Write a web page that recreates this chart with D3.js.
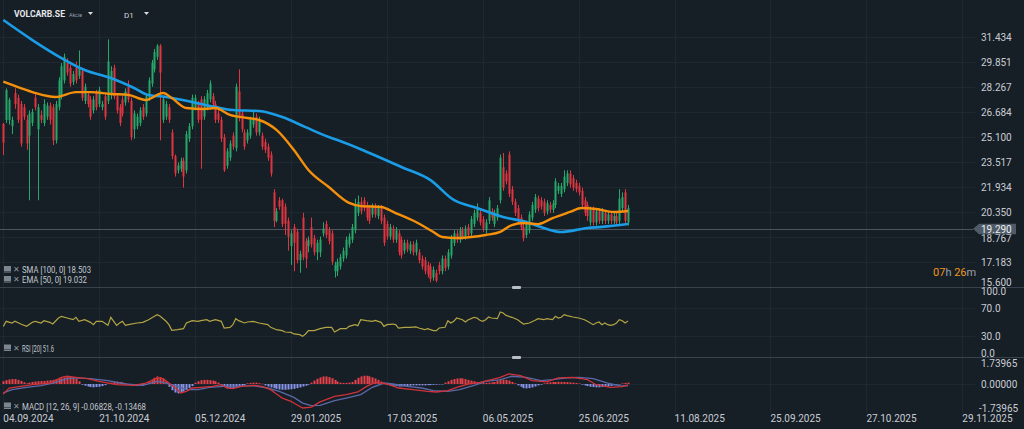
<!DOCTYPE html>
<html><head><meta charset="utf-8">
<script src="https://cdnjs.cloudflare.com/ajax/libs/d3/7.8.5/d3.min.js"></script>
<style>
html,body{margin:0;padding:0;background:#161e26;overflow:hidden}
svg{display:block}
text{font-family:Roboto,"Noto Sans",Arial,sans-serif}
</style>
</head><body>
<svg id="c" width="1024" height="429"></svg>
<script>
// ---------- DATA ----------
const opens = [25.95,26.19,26.19,25.8,27.9,27.6,27.2,27.0,26.2,25.2,26.0,27.6,25.6,26.5,26.0,26.4,27.1,27.0,24.9,27.0,
27.7,28.7,29.8,29.5,28.6,29.5,29.0,29.3,27.4,27.8,27.5,26.8,27.9,27.2,27.0,27.7,27.4,27.8,29.5,27.7,
27.0,27.5,27.3,28.3,27.4,25.6,25.8,26.0,27.0,26.6,27.6,28.5,29.4,30.2,30.9,26.2,26.4,27.0,25.4,23.9,
23.0,23.1,23.6,23.0,25.0,25.8,27.0,27.2,27.5,26.4,27.0,27.5,27.7,27.2,26.6,26.2,25.1,23.3,23.8,25.2,
24.4,28.0,26.6,25.4,24.9,25.2,25.9,26.4,25.4,25.2,24.8,24.5,24.0,21.6,19.8,21.1,21.1,20.7,19.8,18.2,
19.4,19.1,17.3,20.0,18.5,18.2,19.4,18.7,17.8,17.8,19.0,19.6,19.2,19.0,16.6,16.6,16.9,17.4,17.6,18.3,
18.6,19.2,20.3,21.0,21.1,20.8,20.6,20.2,20.7,20.1,20.6,20.0,19.6,18.8,19.3,18.6,19.0,18.6,17.9,18.4,
17.9,18.3,17.8,17.8,17.4,17.3,17.0,16.9,16.2,16.5,17.0,16.6,17.4,16.9,17.6,18.4,19.0,18.6,19.2,18.8,
19.4,19.0,19.6,20.0,20.3,19.9,19.2,19.8,20.4,19.6,20.0,21.1,23.2,22.8,24.0,21.8,21.0,20.6,20.0,19.4,
18.9,19.2,20.0,20.5,21.2,21.1,21.0,20.4,20.8,20.5,20.8,21.7,21.5,21.8,22.2,22.8,22.5,22.2,22.0,21.7,
21.1,20.8,19.7,20.5,19.7,20.4,19.8,20.3,19.8,20.2,19.8,20.1,19.8,20.6,21.6,19.7];
const highs = [26.0,28.2,27.6,26.4,28.2,27.8,27.4,27.2,26.5,26.8,26.9,27.9,27.2,26.8,27.5,27.3,27.3,27.2,27.4,28.9,
29.8,30.4,30.1,29.7,29.3,29.9,30.6,29.5,28.5,28.0,27.7,27.7,28.1,28.3,27.4,27.9,31.3,29.6,29.7,27.9,
27.2,27.7,28.2,28.7,27.6,26.8,26.6,27.0,27.2,27.9,28.9,30.0,30.7,31.0,31.0,27.7,27.4,27.2,25.6,24.0,
23.5,23.8,23.8,25.5,26.0,27.8,27.8,27.4,27.7,27.7,28.1,28.7,27.9,27.4,26.8,26.4,25.3,24.4,24.9,25.4,
28.5,29.4,26.8,25.6,25.6,26.4,26.7,26.6,26.4,25.4,25.0,24.7,24.2,21.8,20.6,21.3,21.2,20.9,20.0,19.2,
19.6,19.3,17.9,20.3,18.7,18.8,20.0,18.9,18.6,18.8,19.7,19.8,19.4,19.2,17.2,17.4,17.7,18.1,18.8,19.0,
19.6,21.2,21.4,21.3,21.3,21.0,20.8,20.9,20.9,20.8,20.8,20.2,19.8,19.6,19.5,19.4,19.2,18.8,18.6,18.6,
18.5,18.5,18.6,18.0,17.6,17.5,17.2,17.1,16.9,16.7,17.2,17.6,17.6,18.0,18.9,19.2,19.2,19.4,19.4,19.5,
19.6,20.1,20.5,20.9,20.5,20.1,19.9,21.3,20.6,20.5,20.8,24.0,24.1,23.0,24.2,22.0,21.2,20.8,20.2,19.6,
19.8,20.4,21.0,21.5,21.4,21.3,21.2,21.1,21.0,21.1,22.5,22.2,22.2,23.0,23.0,23.0,22.7,22.4,22.2,21.9,
21.3,21.0,20.7,20.7,20.6,20.6,20.6,20.5,20.4,20.4,20.3,20.3,21.8,21.6,21.8,20.8];
const lows = [23.97,26.0,25.9,25.3,26.9,26.0,24.5,26.2,24.3,21.1,25.8,26.8,21.1,26.0,25.8,26.2,25.9,24.6,24.7,26.8,
27.5,28.5,29.0,28.3,28.4,28.5,28.8,27.4,27.2,27.0,26.2,26.6,26.8,27.0,26.8,26.2,27.2,27.5,27.5,26.6,
25.8,26.4,27.1,27.3,24.9,25.0,25.6,25.8,26.2,26.4,27.4,28.3,29.2,30.0,24.9,26.0,26.2,26.0,23.7,22.6,
22.8,22.9,21.9,22.8,24.8,25.6,26.8,26.0,23.1,26.2,26.8,27.3,27.0,26.0,26.0,24.8,22.9,23.1,23.6,24.3,
24.2,26.1,25.4,24.3,24.7,25.0,25.7,25.2,25.2,24.3,24.1,23.6,22.6,19.4,19.7,20.5,19.4,18.9,17.9,17.0,
16.6,17.1,16.5,17.3,16.8,17.8,18.1,17.6,17.3,17.5,18.8,18.7,18.3,17.0,16.2,16.3,16.7,17.2,17.4,18.1,
18.4,19.0,20.1,20.2,20.4,19.8,19.6,20.0,20.0,19.9,19.6,18.2,18.6,18.6,18.4,18.4,17.6,17.4,17.7,17.8,
17.7,17.6,17.6,17.1,16.7,16.4,16.2,15.9,16.0,15.9,16.4,16.4,16.6,16.7,17.4,18.2,18.4,18.4,18.6,18.6,
18.7,18.8,19.4,19.8,19.5,19.1,19.0,19.6,19.8,19.4,19.8,20.9,21.7,22.1,21.3,20.8,20.1,19.6,19.2,18.5,
18.7,19.0,19.8,20.3,20.4,20.5,20.1,20.2,20.3,20.3,20.6,21.5,21.3,21.6,22.0,21.9,21.7,21.6,21.4,20.6,
20.1,19.8,19.5,19.5,19.5,19.6,19.6,19.6,19.6,19.6,19.6,19.5,19.6,20.4,19.6,19.5];
const closes = [24.75,28.09,27.46,26.2,27.2,26.2,24.7,26.4,24.7,26.6,26.7,27.0,27.0,26.2,27.2,27.1,26.2,24.9,27.2,28.7,
29.6,30.2,29.2,28.5,29.1,28.7,29.5,27.6,28.3,27.2,26.4,27.5,27.0,28.1,27.2,26.4,29.9,29.3,27.7,26.8,
26.0,26.6,28.0,27.5,25.1,26.6,26.4,26.8,26.4,27.7,28.7,29.8,30.5,30.9,29.2,27.5,27.2,26.2,23.9,22.8,
23.3,23.6,22.6,25.3,25.8,27.6,27.6,26.2,26.2,27.5,27.9,28.5,27.2,26.2,26.2,25.0,23.0,24.2,24.7,24.5,
28.3,26.3,25.6,24.5,25.4,26.2,26.2,25.4,26.2,24.5,24.3,23.8,22.8,19.8,20.4,20.7,19.6,19.6,18.8,19.0,
18.4,17.3,17.7,17.5,17.4,18.6,18.3,17.8,18.4,18.6,19.3,18.9,18.5,17.2,17.0,17.2,17.5,17.9,18.6,18.8,
19.4,20.8,21.0,20.4,20.6,20.0,19.8,20.7,20.2,20.6,19.8,18.4,18.8,19.4,18.6,19.2,17.8,17.6,18.4,18.0,
18.3,17.8,18.4,17.3,16.9,16.6,16.4,16.1,16.7,16.0,16.6,17.4,16.8,17.8,18.7,19.0,18.6,19.2,18.8,19.3,
18.9,19.9,20.3,20.6,19.7,19.3,19.7,21.1,20.0,20.3,20.6,23.8,21.9,22.3,21.5,21.0,20.3,19.8,19.4,18.7,
19.6,20.2,20.8,21.3,20.6,20.7,20.3,20.9,20.5,20.9,22.3,22.0,22.0,22.6,22.8,22.1,21.9,21.8,21.6,20.8,
20.3,20.1,20.5,19.7,20.4,19.8,20.4,19.8,20.2,19.8,20.1,19.7,21.2,21.3,19.8,20.6];

const smaIdx = [0,10,20,28,37,45,50,56,65,73,79,88,96,104,112,115,126,137,147,155,163,172,180,186,192,201,206,215];
const smaVal = [32.53,31.26,30.12,29.36,28.85,28.22,27.77,27.65,27.33,27.01,26.82,26.76,26.38,25.74,25.11,24.92,24.10,23.21,22.38,21.12,20.61,20.04,19.72,19.34,19.09,19.34,19.41,19.59];

const emaIdx = [0,3,10,18,25,30,37,43,49,55,58,63,69,73,78,84,88,94,100,105,112,119,123,130,135,142,148,151,156,161,166,171,175,179,184,189,195,199,204,210,215];
const emaVal = [28.62,28.41,27.96,27.65,27.96,27.96,27.84,27.78,27.46,27.90,27.58,26.95,26.89,26.95,26.51,26.32,26.19,25.56,24.29,23.02,21.94,20.93,20.73,20.67,20.29,19.72,19.09,18.77,18.71,18.77,18.90,19.09,19.53,19.66,19.59,19.97,20.36,20.61,20.55,20.36,20.42];

const rsiIdx = [0,1,3,4,6,8,10,11,13,14,16,17,19,20,22,24,25,26,28,30,31,32,34,36,37,38,39,40,41,42,43,46,48,50,52,53,54,56,57,58,60,62,63,65,67,68,70,71,73,75,76,78,79,80,81,83,84,86,88,91,92,94,96,97,99,100,102,103,104,105,107,
109,111,113,114,116,118,119,121,122,123,125,127,128,130,131,132,134,135,136,138,140,142,143,145,146,148,149,150,152,153,154,155,156,158,159,160,161,162,163,164,165,166,167,168,170,171,172,173,175,177,178,179,181,183,184,186,187,189,190,191,192,193,194,196,198,200,201,203,204,205,206,207,208,209,210,211,212,213,214,215];
const rsiVal = [43.8,51.0,48.6,51.0,47.1,43.8,49.5,51.0,48.6,51.9,49.5,47.1,55.7,58.1,55.7,53.3,56.7,51.0,53.3,49.5,46.2,51.0,51.0,45.2,56.7,51.0,45.2,48.6,51.0,45.2,46.2,48.6,49.5,53.3,58.1,60.5,58.1,51.0,46.2,38.1,39.0,40.5,48.6,51.9,51.0,51.9,53.3,51.0,53.3,51.0,41.4,42.4,46.2,54.8,51.9,48.6,50.0,51.0,48.6,46.2,42.4,39.0,37.6,35.7,35.2,32.9,31.9,29.5,32.9,37.6,37.6,
40.5,42.4,42.4,35.7,40.5,40.5,43.8,46.2,44.8,53.3,51.9,51.0,52.4,49.5,43.8,46.2,47.1,46.2,41.4,42.4,42.4,42.9,41.4,39.0,40.5,37.6,37.6,41.4,42.4,51.9,48.6,51.0,55.7,53.3,50.0,53.3,54.8,56.7,55.7,52.4,51.0,53.3,57.1,55.7,54.8,64.3,62.9,59.5,56.7,53.3,50.0,47.1,48.6,52.4,54.8,53.3,54.8,53.3,58.1,55.7,56.7,60.5,59.1,57.1,55.7,53.3,51.0,46.2,48.6,50.0,46.2,48.6,46.2,45.2,46.2,48.6,53.3,51.9,48.6,51.6];

const macdIdx = [0,2,6,10,16,20,22,25,29,33,39,45,49,53,55,57,60,61,63,65,68,72,75,77,79,82,86,89,92,94,96,99,101,103,106,109,114,118,122,125,128,132,136,141,146,149,153,156,160,164,168,171,174,178,182,187,191,196,201,204,209,213,215];
const macdVal = [-0.73,-0.29,-0.17,-0.05,0.07,0.48,0.56,0.48,0.39,0.19,-0.05,-0.10,0.07,0.44,0.39,0.07,-0.41,-0.65,-0.53,-0.29,-0.24,-0.17,-0.05,-0.29,-0.34,-0.17,-0.10,-0.17,-0.41,-0.73,-1.02,-1.26,-1.50,-1.74,-1.67,-1.30,-0.89,-0.77,-0.58,-0.17,0.12,0.00,-0.29,-0.41,-0.53,-0.58,-0.48,-0.24,0.00,0.12,0.31,0.48,0.73,0.60,0.24,0.15,0.44,0.48,0.31,-0.05,-0.24,-0.19,-0.07];
const signalIdx = [0,3,8,13,17,22,25,30,36,42,48,53,56,60,63,67,71,76,80,86,91,95,100,103,106,109,114,118,123,127,131,134,139,144,148,153,157,162,166,171,175,180,185,189,194,198,203,208,212,215];
const signalVal = [-0.65,-0.41,-0.24,-0.12,0.07,0.39,0.44,0.39,0.24,0.00,-0.10,0.19,0.07,-0.17,-0.41,-0.41,-0.24,-0.17,-0.17,-0.12,-0.29,-0.53,-0.97,-1.38,-1.57,-1.55,-1.21,-1.02,-0.77,-0.24,0.07,0.00,-0.17,-0.29,-0.48,-0.53,-0.41,-0.10,0.19,0.31,0.56,0.48,0.24,0.31,0.44,0.48,0.39,0.07,-0.12,-0.13];
const histVal = [0.2,0.28,0.33,0.36,0.36,0.3,0.22,0.12,0.05,0.1,
0.15,0.18,0.2,0.22,0.22,0.25,0.27,0.3,0.33,0.38,0.42,0.48,0.52,0.55,0.5,0.38,0.2,
-0.05,-0.12,-0.18,-0.22,-0.24,-0.22,-0.2,-0.15,-0.08,
0.05,0.1,0.15,0.17,0.15,0.12,0.06,
-0.05,-0.1,-0.14,-0.15,-0.12,-0.08,-0.03,
0.15,0.3,0.45,0.55,0.5,0.38,0.2,
-0.2,-0.45,-0.62,-0.68,-0.65,-0.55,-0.42,-0.3,-0.15,
0.1,0.2,0.28,0.3,0.3,0.28,0.25,0.2,0.1,
-0.1,-0.2,-0.3,-0.32,-0.3,-0.28,-0.22,-0.15,-0.08,
0.05,0.08,0.1,0.1,0.06,0.02,
-0.1,-0.18,-0.25,-0.3,-0.35,-0.4,-0.42,-0.42,-0.4,-0.38,-0.35,-0.3,-0.25,-0.18,-0.12,-0.05,
0.1,0.25,0.38,0.48,0.55,0.55,0.5,0.42,0.3,0.18,
0.1,0.08,0.08,0.1,0.15,
0.3,0.45,0.55,0.6,0.6,0.55,0.48,0.4,0.3,0.18,0.08,
-0.05,-0.1,-0.14,-0.16,-0.18,-0.18,-0.16,-0.14,-0.12,-0.1,-0.1,-0.1,-0.1,-0.1,-0.08,-0.08,-0.06,-0.05,-0.03,-0.02,
0.1,0.2,0.3,0.36,0.4,0.42,0.4,0.36,0.3,0.25,0.2,0.15,
0.1,0.08,0.08,0.1,0.12,0.15,
0.25,0.3,0.32,0.3,0.25,0.15,0.05,
-0.1,-0.2,-0.3,-0.32,-0.3,-0.25,-0.18,-0.1,-0.05,
0.05,0.1,0.12,0.15,0.15,0.16,0.15,0.15,0.14,0.12,0.1,0.08,0.04,
-0.05,-0.1,-0.15,-0.2,-0.22,-0.24,-0.24,-0.22,-0.2,-0.18,-0.14,-0.1,-0.06,-0.02,
0.05,0.08,0.1];

const dateLabels = ["04.09.2024","21.10.2024","05.12.2024","29.01.2025","17.03.2025","06.05.2025","25.06.2025","11.08.2025","25.09.2025","27.10.2025","29.11.2025"];
const dateIdx = [0,33,66,99,132,165,198,231,264,297,330];
const priceTicks = ["31.434","29.851","28.267","26.684","25.100","23.517","21.934","20.350","18.767","17.183","15.600"];
const rsiTicks = ["100.0","70.0","30.0","0.0"];
const macdTicks = ["1.73965","0.00000","-1.73965"];
const lastPrice = 19.290;

// ---------- LAYOUT ----------
const W = 1024, PLOT_R = 975, AX_X = 981;
const svg = d3.select("#c");
const txtCol = "#c9cdd3";
const x = d3.scaleLinear().domain([0, 330]).range([3.3, 3.3 + 330 * 2.906]);
const yP = d3.scaleLinear().domain([15.6, 31.434]).range([287, 37.3]);
const yR = d3.scaleLinear().domain([0, 100]).range([357, 287]);
const yM = d3.scaleLinear().domain([-1.73965, 1.73965]).range([408, 360]);

const defs = svg.append("defs");
[["cpMain",0,0,PLOT_R,287],["cpRsi",0,287,PLOT_R,70],["cpMacd",0,357,PLOT_R,55]].forEach(([id,x0,y0,w,h])=>{
  defs.append("clipPath").attr("id",id).append("rect").attr("x",x0).attr("y",y0).attr("width",w).attr("height",h);
});

svg.append("rect").attr("width",W).attr("height",429).attr("fill","#161e26");

// grid
const grid = svg.append("g").attr("stroke","#1e2831").attr("stroke-width",1);
dateIdx.forEach(d=>{ const gx=Math.round(x(d))+0.5; grid.append("line").attr("x1",gx).attr("x2",gx).attr("y1",0).attr("y2",412); });
priceTicks.forEach(t=>{ const gy=Math.round(yP(+t))+0.5; grid.append("line").attr("x1",0).attr("x2",PLOT_R).attr("y1",gy).attr("y2",gy); });
[70,30].forEach(v=>{ const gy=Math.round(yR(v))+0.5; grid.append("line").attr("x1",0).attr("x2",PLOT_R).attr("y1",gy).attr("y2",gy); });
{ const gy=Math.round(yM(0))+0.5; grid.append("line").attr("x1",0).attr("x2",PLOT_R).attr("y1",gy).attr("y2",gy); }

// last price line
svg.append("line").attr("x1",0).attr("x2",973).attr("y1",Math.round(yP(lastPrice))+0.5).attr("y2",Math.round(yP(lastPrice))+0.5)
  .attr("stroke","#4b555f").attr("stroke-width",1);

// candles
const GREEN="#27a86b", RED="#e0343f";
const cg = svg.append("g").attr("clip-path","url(#cpMain)");
const candles = d3.range(opens.length).map(i=>({i,o:opens[i],h:highs[i],l:lows[i],c:closes[i]}));
cg.selectAll("line.w").data(candles).join("line")
  .attr("x1",d=>Math.round(x(d.i))+0.5).attr("x2",d=>Math.round(x(d.i))+0.5)
  .attr("y1",d=>yP(d.h)).attr("y2",d=>yP(d.l))
  .attr("stroke",d=>d.c>=d.o?GREEN:RED).attr("stroke-width",1);
cg.selectAll("rect.b").data(candles).join("rect")
  .attr("x",d=>Math.round(x(d.i))-0.5).attr("width",2)
  .attr("y",d=>yP(Math.max(d.o,d.c)))
  .attr("height",d=>Math.max(1,Math.abs(yP(d.o)-yP(d.c))))
  .attr("fill",d=>d.c>=d.o?GREEN:RED);

// moving averages
const lineGen = d3.line().x(d=>x(d[0])).y(d=>d[1]).curve(d3.curveMonotoneX);
cg.append("path").attr("d",lineGen(smaIdx.map((k,j)=>[k,yP(smaVal[j])])))
  .attr("fill","none").attr("stroke","#1a9de6").attr("stroke-width",2.6);
cg.append("path").attr("d",lineGen(emaIdx.map((k,j)=>[k,yP(emaVal[j])])))
  .attr("fill","none").attr("stroke","#f4900c").attr("stroke-width",2.4);

// RSI
const rg = svg.append("g").attr("clip-path","url(#cpRsi)");
rg.append("path").attr("d",d3.line().x(d=>x(d[0])).y(d=>d[1])(rsiIdx.map((k,j)=>[k,yR(rsiVal[j])])))
  .attr("fill","none").attr("stroke","#b3a544").attr("stroke-width",1.2);

// MACD
const mg = svg.append("g").attr("clip-path","url(#cpMacd)");
const z = yM(0);
mg.selectAll("rect.h").data(histVal.map((v,i)=>({i,v}))).join("rect")
  .attr("x",d=>Math.round(x(d.i))-0.5).attr("width",2)
  .attr("y",d=>d.v>=0?yM(d.v):z).attr("height",d=>Math.max(0.5,Math.abs(yM(d.v)-z)))
  .attr("fill",d=>d.v>=0?"#e8414a":"#8894e8");
mg.append("path").attr("d",d3.line().x(d=>x(d[0])).y(d=>d[1])(signalIdx.map((k,j)=>[k,yM(signalVal[j])])))
  .attr("fill","none").attr("stroke","#5a6aa8").attr("stroke-width",1.3);
mg.append("path").attr("d",d3.line().x(d=>x(d[0])).y(d=>d[1])(macdIdx.map((k,j)=>[k,yM(macdVal[j])])))
  .attr("fill","none").attr("stroke","#d0323a").attr("stroke-width",1.3);

// separators
[287.5,357.5].forEach(y0=>{
  svg.append("line").attr("x1",0).attr("x2",W).attr("y1",y0).attr("y2",y0).attr("stroke","#38424c").attr("stroke-width",1);
  svg.append("rect").attr("x",512).attr("y",y0-1.5).attr("width",9).attr("height",3).attr("rx",1).attr("fill","#b9bec4");
});

// price axis labels
const ax = svg.append("g").attr("font-size",10).attr("fill",txtCol);
priceTicks.forEach(t=>{
  let yy = Math.min(yP(+t), 282);
  if (t === "18.767") yy += 1;
  ax.append("text").attr("x",AX_X).attr("y",yy).attr("dy","0.35em").text(t);
});
rsiTicks.forEach(t=>{
  const yy = Math.max(291, Math.min(353, yR(+t)));
  ax.append("text").attr("x",AX_X).attr("y",yy).attr("dy","0.35em").text(t);
});
macdTicks.forEach(t=>{
  const v=+t; const yy = Math.max(363, yM(v));
  ax.append("text").attr("x",v<0?979:AX_X).attr("y",yy).attr("dy","0.35em").text(t);
});
// last price tag
{
  const yy = yP(lastPrice);
  svg.append("path").attr("d",`M973,${yy} L979,${yy-5} L1016,${yy-5} L1016,${yy+5.5} L979,${yy+5.5} Z`).attr("fill","#4f5b67");
  svg.append("text").attr("x",AX_X).attr("y",yy).attr("dy","0.38em").attr("font-size",10).attr("fill","#eceef1").text(lastPrice.toFixed(3));
}
// countdown
{
  const t = svg.append("text").attr("x",933).attr("y",272).attr("dy","0.35em").attr("font-size",11);
  t.append("tspan").attr("fill","#f0961c").text("07");
  t.append("tspan").attr("fill","#9aa1a9").text("h ");
  t.append("tspan").attr("fill","#f0961c").text("26");
  t.append("tspan").attr("fill","#9aa1a9").text("m");
}

// x axis labels
dateLabels.forEach((lab,j)=>{
  svg.append("text").attr("x",x(dateIdx[j])).attr("y",418).attr("dy","0.35em")
    .attr("font-size",10).attr("fill",txtCol).text(lab);
});

// header
svg.append("text").attr("x",14).attr("y",14).attr("dy","0.35em").attr("font-size",9.5).attr("font-weight","bold")
  .attr("fill","#e6e8eb").attr("textLength",51).attr("lengthAdjust","spacingAndGlyphs").text("VOLCARB.SE");
svg.append("text").attr("x",69).attr("y",15).attr("dy","0.35em").attr("font-size",5.5).attr("fill","#9ca3aa")
  .attr("textLength",13).attr("lengthAdjust","spacingAndGlyphs").text("Akcie");
svg.append("text").attr("x",124).attr("y",15).attr("dy","0.35em").attr("font-size",8).attr("fill","#d8dbdf").text("D1");
[[88,12],[144,12]].forEach(([tx,ty])=>{
  svg.append("path").attr("d",`M${tx},${ty} L${tx+5},${ty} L${tx+2.5},${ty+3} Z`).attr("fill","#d8dbdf");
});

// legends
function legend(y0, label, len){
  svg.append("rect").attr("x",4).attr("y",y0-3.5).attr("width",7).attr("height",5).attr("fill","#7d858e");
  svg.append("rect").attr("x",4).attr("y",y0+2).attr("width",7).attr("height",1).attr("fill","#7d858e");
  svg.append("text").attr("x",13).attr("y",y0).attr("dy","0.35em").attr("font-size",7.5).attr("fill","#8d959d").text("✕");
  svg.append("text").attr("x",22).attr("y",y0+0.5).attr("dy","0.35em").attr("font-size",9).attr("fill","#c3c8ce")
    .attr("textLength",len).attr("lengthAdjust","spacingAndGlyphs").text(label);
}
legend(269.5,"SMA [100,  0] 18.503",69);
legend(279.5,"EMA [50,  0] 19.032",65);
legend(348,"RSI [20]  51.6",32);
legend(406,"MACD [12, 26, 9] -0.06828,  -0.13468",124);
</script>
</body></html>
